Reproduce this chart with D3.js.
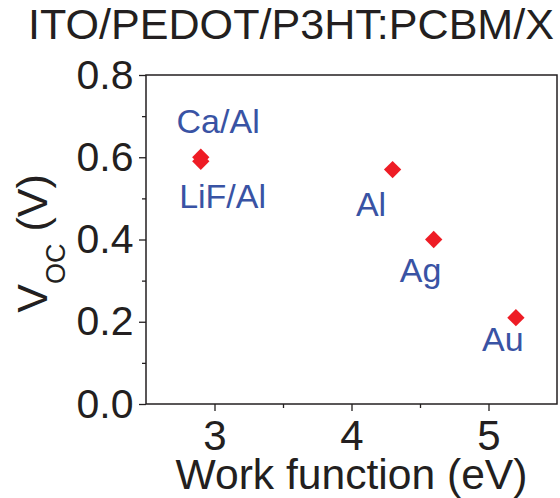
<!DOCTYPE html>
<html>
<head>
<meta charset="utf-8">
<script src="https://cdn.jsdelivr.net/npm/d3@7"></script>
<style>
  html, body { margin: 0; padding: 0; background: #fff; }
  svg { display: block; font-family: "Liberation Sans", Arial, sans-serif; }
</style>
</head>
<body>
<svg id="chart" width="560" height="498"></svg>
<script>
// ---- data ----
const metals = ["Ca/Al", "LiF/Al", "Al", "Ag", "Au"];
const workFunction = [2.9, 2.9, 4.3, 4.6, 5.2];
const voc = [0.60, 0.59, 0.57, 0.40, 0.21];
// label anchors (data units, text start / baseline)
const labelX = [2.723, 2.742, 4.032, 4.352, 4.953];
const labelY = [0.658, 0.476, 0.458, 0.296, 0.129];
const xMajorTicks = [3, 4, 5];
const xMinorTicks = [3.5, 4.5];
const yMajorTicks = [0.0, 0.2, 0.4, 0.6, 0.8];
const yMinorTicks = [0.1, 0.3, 0.5, 0.7];
const titleText = "ITO/PEDOT/P3HT:PCBM/X";
const xTitle = "Work function (eV)";

// ---- layout ----
const svg = d3.select("#chart");
const L = 146, R = 557, T = 75, B = 404;
const x = d3.scaleLinear().domain([2.5, 5.5]).range([L, R]);
const y = d3.scaleLinear().domain([0, 0.8]).range([B, T]);
const ink = "#231F20";

// frame
svg.append("rect")
  .attr("x", L).attr("y", T).attr("width", R - L).attr("height", B - T)
  .attr("fill", "none").attr("stroke", ink).attr("stroke-width", 1.5);

// x axis
const gx = svg.append("g").attr("transform", `translate(0,${B})`)
  .call(d3.axisBottom(x).tickValues(xMajorTicks).tickFormat(d3.format("d"))
    .tickSize(7).tickSizeOuter(0).tickPadding(9));
svg.append("g").attr("transform", `translate(0,${B})`)
  .call(d3.axisBottom(x).tickValues(xMinorTicks).tickFormat("")
    .tickSize(4).tickSizeOuter(0));

// y axis
const gy = svg.append("g").attr("transform", `translate(${L},0)`)
  .call(d3.axisLeft(y).tickValues(yMajorTicks).tickFormat(d3.format(".1f"))
    .tickSize(7).tickSizeOuter(0).tickPadding(5.5));
svg.append("g").attr("transform", `translate(${L},0)`)
  .call(d3.axisLeft(y).tickValues(yMinorTicks).tickFormat("")
    .tickSize(4).tickSizeOuter(0));

svg.selectAll(".domain").remove();
svg.selectAll(".tick line").attr("stroke", ink).attr("stroke-width", 1.3);
gx.selectAll(".tick text").attr("font-size", 42).attr("fill", ink)
  .attr("font-family", "Liberation Sans, Arial, sans-serif");
gy.selectAll(".tick text").attr("font-size", 41).attr("fill", ink)
  .attr("font-family", "Liberation Sans, Arial, sans-serif");

// title
svg.append("text")
  .attr("x", 28).attr("y", 39)
  .attr("font-size", 43).attr("fill", ink)
  .attr("textLength", 526).attr("lengthAdjust", "spacingAndGlyphs")
  .text(titleText);

// x title
svg.append("text")
  .attr("x", (L + R) / 2).attr("y", 489)
  .attr("text-anchor", "middle")
  .attr("font-size", 42.6).attr("fill", ink)
  .text(xTitle);

// y title (V_OC (V))
const yt = svg.append("text")
  .attr("transform", "translate(46.7,243.5) rotate(-90)")
  .attr("text-anchor", "middle")
  .attr("font-size", 43).attr("fill", ink);
yt.append("tspan").text("V");
yt.append("tspan").attr("font-size", 27).attr("dy", 18.3).text("OC");
yt.append("tspan").attr("dy", -18.3).text("\u00A0(V)");

// points
const pts = metals.map((m, i) => ({ m, wf: workFunction[i], v: voc[i] }));
svg.append("g").selectAll("path").data(pts).join("path")
  .attr("d", d3.symbol().type(d3.symbolSquare).size(150))
  .attr("transform", d => `translate(${x(d.wf)},${y(d.v)}) rotate(45)`)
  .attr("fill", "#EE1C25");

// labels
svg.append("g").selectAll("text").data(metals).join("text")
  .attr("x", (d, i) => x(labelX[i]))
  .attr("y", (d, i) => y(labelY[i]))
  .attr("font-size", 34).attr("fill", "#3953A4")
  .text(d => d);
</script>
</body>
</html>
